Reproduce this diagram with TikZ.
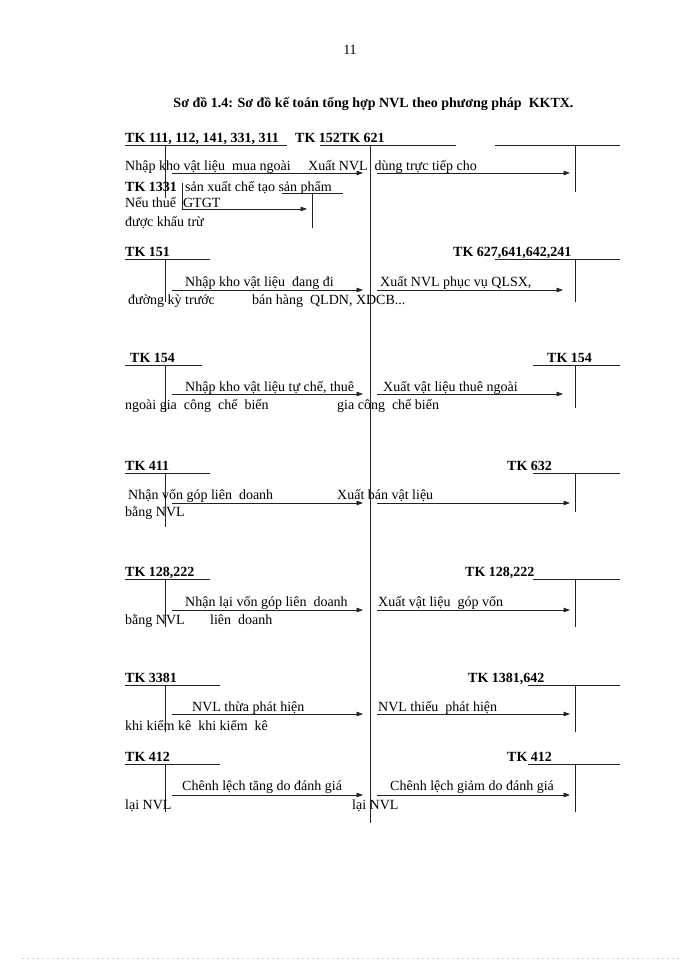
\documentclass[tikz,border=0pt]{standalone}
\usepackage{fontspec}
\setmainfont{Liberation Serif}
\usetikzlibrary{arrows.meta}
\definecolor{ink}{HTML}{222222}
\newcommand{\bodysize}{\fontsize{14}{17}\selectfont}

\begin{document}
\begin{tikzpicture}[x=1pt, y=-1pt,
    txt/.style={anchor=base west, inner sep=0pt, font=\bodysize},
    tk/.style={anchor=base west, inner sep=0pt, font=\bodysize\bfseries},
    ln/.style={draw=ink, line width=0.8pt},
    flow/.style={ln, -{Triangle[length=6.5pt, width=4.5pt]}}]
  \useasboundingbox (0,0) rectangle (700,960);
  \node[anchor=base, inner sep=0pt, font=\bodysize] (pageno) at (350,55) {11};
  \node[anchor=base, inner sep=0pt, font=\bodysize\bfseries] (title) at (373.5,108)
       {Sơ đồ 1.4: Sơ đồ kế toán tổng hợp NVL theo phương pháp\ \ KKTX.};

  % T-accounts: underline y / left foot / right foot / left end / right start
  \foreach \y/\yl/\yr/\la/\ra in {145/198/192/287/495, 259/302/302/210/495,
      365/412/408/202/533, 473/527/512/210/533, 579/627/627/210/533,
      685/732/732/220/528, 764/812/812/220/528}{
    \draw[ln] (125,\y) -- (\la,\y);
    \draw[ln] (165,\y) -- (165,\yl);
    \draw[ln] (\ra,\y) -- (620,\y);
    \draw[ln] (575,\y) -- (575,\yr);
  }
  % TK 152 in the middle
  \draw[ln] (320,145) -- (456,145);
  \draw[ln] (370,145) -- (370,823);
  % TK 1331
  \draw[ln] (282,193) -- (343,193);
  \draw[ln] (312,193) -- (312,228);

  % flows, left -> TK 152 -> right
  \foreach \r/\y/\e in {1/173/570, 2/290/563, 3/394/563, 4/503/570,
      5/610/570, 6/714/570, 7/795/570}{
    \coordinate (srcL\r) at (172,\y);
    \coordinate (dstL\r) at (363,\y);
    \coordinate (srcR\r) at (377,\y);
    \coordinate (dstR\r) at (\e,\y);
    \draw[flow] (srcL\r) -- (dstL\r);
    \draw[flow] (srcR\r) -- (dstR\r);
  }
  \coordinate (src1331) at (182,183);
  \coordinate (dst1331) at (307,209);
  \draw[flow] (src1331) |- (dst1331);

  % row 1
  \node[tk] (tk111) at (125,142.5) {TK 111, 112, 141, 331, 311};
  \node[tk] (tk152) at (295,142.5) {TK 152TK 621};
  \node[txt] (d1a) at (125,171) {Nhập kho vật liệu\ \ mua ngoài};
  \node[txt] (d1b) at (308,171) {Xuất NVL\ \ dùng trực tiếp cho};
  \node[tk] (tk1331) at (125,191.5) {TK 1331};
  \node[txt] (d1c) at (185,191) {sản xuất chế tạo sản phẩm};
  \node[txt] (d1d) at (125,207) {Nếu thuế\ \ GTGT};
  \node[txt] (d1e) at (125,226) {được khấu trừ};

  % row 2
  \node[tk] (tk151) at (125,256.5) {TK 151};
  \node[tk] (tk627) at (453,256.5) {TK 627,641,642,241};
  \node[txt] (d2a) at (185,286) {Nhập kho vật liệu\ \ đang đi};
  \node[txt] (d2b) at (380,286) {Xuất NVL phục vụ QLSX,};
  \node[txt] (d2c) at (128,304) {đường kỳ trước};
  \node[txt] (d2d) at (252,304) {bán hàng\ \ QLDN, XDCB...};

  % row 3
  \node[tk] (tk154) at (130,362.5) {TK 154};
  \node[tk] (tk154r) at (547,362.5) {TK 154};
  \node[txt] (d3a) at (185,391) {Nhập kho vật liệu tự chế, thuê};
  \node[txt] (d3b) at (383,391) {Xuất vật liệu thuê ngoài};
  \node[txt] (d3c) at (125,409) {ngoài gia\ \ công\ \ chế\ \ biến};
  \node[txt] (d3d) at (337,409) {gia công\ \ chế biến};

  % row 4
  \node[tk] (tk411) at (125,470.5) {TK 411};
  \node[tk] (tk632) at (507,470.5) {TK 632};
  \node[txt] (d4a) at (128,499) {Nhận vốn góp liên\ \ doanh};
  \node[txt] (d4b) at (337,499) {Xuất bán vật liệu};
  \node[txt] (d4c) at (125,516) {bằng NVL};

  % row 5
  \node[tk] (tk128) at (125,576.5) {TK 128,222};
  \node[tk] (tk128r) at (465,576.5) {TK 128,222};
  \node[txt] (d5a) at (185,606) {Nhận lại vốn góp liên\ \ doanh};
  \node[txt] (d5b) at (378,606) {Xuất vật liệu\ \ góp vốn};
  \node[txt] (d5c) at (125,624) {bằng NVL};
  \node[txt] (d5d) at (210,624) {liên\ \ doanh};

  % row 6
  \node[tk] (tk3381) at (125,682.5) {TK 3381};
  \node[tk] (tk1381) at (468,682.5) {TK 1381,642};
  \node[txt] (d6a) at (192,711) {NVL thừa phát hiện};
  \node[txt] (d6b) at (378,711) {NVL thiếu\ \ phát hiện};
  \node[txt] (d6c) at (125,730) {khi kiểm kê\ \ khi kiểm\ \ kê};

  % row 7
  \node[tk] (tk412) at (125,761.5) {TK 412};
  \node[tk] (tk412r) at (507,761.5) {TK 412};
  \node[txt] (d7a) at (182,790) {Chênh lệch tăng do đánh giá};
  \node[txt] (d7b) at (390,790) {Chênh lệch giảm do đánh giá};
  \node[txt] (d7c) at (125,809) {lại NVL};
  \node[txt] (d7d) at (352,809) {lại NVL};

  \draw[black!18, dash pattern=on 2pt off 3pt] (22,958.5) -- (680,958.5);
\end{tikzpicture}
\end{document}
